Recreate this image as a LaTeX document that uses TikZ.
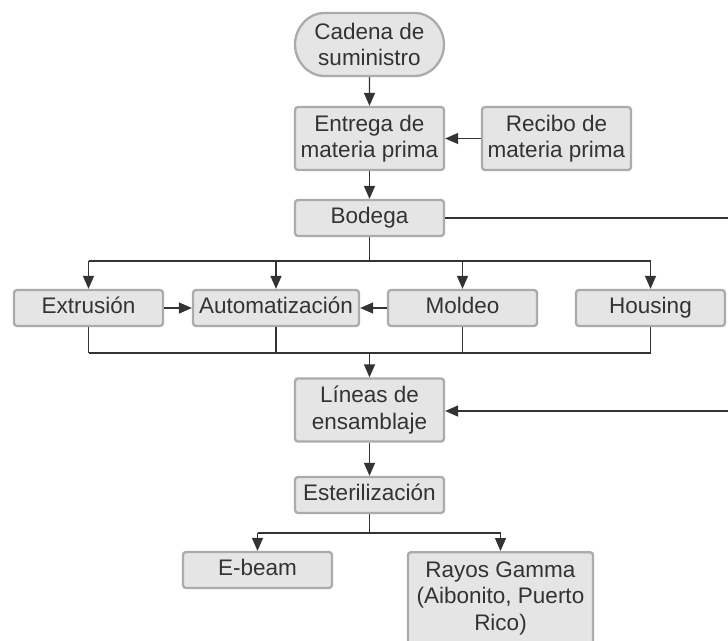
\documentclass[tikz,border=0pt]{standalone}
\usepackage{fontspec}
\setmainfont{Liberation Sans}
\usetikzlibrary{arrows.meta,shapes.misc}
\definecolor{boxfill}{HTML}{E5E5E5}
\definecolor{boxedge}{HTML}{ABABAB}
\definecolor{ink}{HTML}{333333}
\begin{document}
\begin{tikzpicture}[x=1pt,y=-1pt,
  box/.style={rectangle, rounded corners=3pt, fill=boxfill, draw=boxedge,
    line width=2.3pt, align=center, inner sep=0pt, text=ink,
    font=\fontsize{22.5}{26.5}\selectfont, minimum width=149pt, minimum height=36pt},
  oneline/.style={box, text height=15.6pt, text depth=5pt},
  tall/.style={minimum height=63pt},
  pill/.style={box, rounded rectangle},
  arr/.style={draw=ink, line width=1.4pt, -{Triangle[length=13pt,width=11pt]}},
  ln/.style={draw=ink, line width=1.4pt}]
\useasboundingbox (0,0) rectangle (728,640);

% nodes
\node[pill, tall] (cadena) at (369.5,44.5) {Cadena de\\suministro};
\node[box, tall] (entrega) at (369.5,138.5) {Entrega de\\materia prima};
\node[box, tall] (recibo) at (556.5,138.5) {Recibo de\\materia prima};
\node[oneline] (bodega) at (369.5,218) {Bodega};
\node[oneline] (extr) at (88.5,308) {Extrusión};
\node[oneline, minimum width=166pt] (auto) at (276,308) {Automatización};
\node[oneline] (moldeo) at (462.5,308) {Moldeo};
\node[oneline] (housing) at (650.5,308) {Housing};
\node[box, tall] (lineas) at (369.5,410) {Líneas de\\ensamblaje};
\node[oneline] (ester) at (369.5,495) {Esterilización};
\node[oneline] (ebeam) at (257.5,570) {E-beam};
\node[box, minimum width=185pt, minimum height=92pt, anchor=north] (rayos) at (500.5,551) {Rayos Gamma\\(Aibonito, Puerto\\Rico)};

% off-page ends of the long return line
\coordinate (edgeA) at (740,218);
\coordinate (edgeB) at (740,411);
\coordinate (split) at (369.5,261);
\coordinate (merge) at (369.5,353);
\coordinate (fork) at (369.5,533);

% connectors
\draw[arr] (cadena) -- (entrega);
\draw[arr] (recibo) -- (entrega);
\draw[arr] (entrega) -- (bodega);
\draw[ln] (bodega.east) -- (edgeA);
\draw[arr] (edgeB) -- (lineas.east |- edgeB);

\draw[ln] (bodega.south) -- (split);
\draw[ln] (extr.north |- split) -- (housing.north |- split);
\foreach \n in {extr,auto,moldeo,housing}
  \draw[arr] (\n.north |- split) -- (\n.north);

\draw[arr] (extr) -- (auto);
\draw[arr] (moldeo) -- (auto);

\foreach \n in {extr,auto,moldeo,housing}
  \draw[ln] (\n.south) -- (\n.south |- merge);
\draw[ln] (extr.south |- merge) -- (housing.south |- merge);
\draw[arr] (merge) -- (lineas.north);

\draw[arr] (lineas) -- (ester);
\draw[ln] (ester.south) -- (fork);
\draw[ln] (ebeam.north |- fork) -- (rayos.north |- fork);
\draw[arr] (ebeam.north |- fork) -- (ebeam.north);
\draw[arr] (rayos.north |- fork) -- (rayos.north);
\end{tikzpicture}
\end{document}
